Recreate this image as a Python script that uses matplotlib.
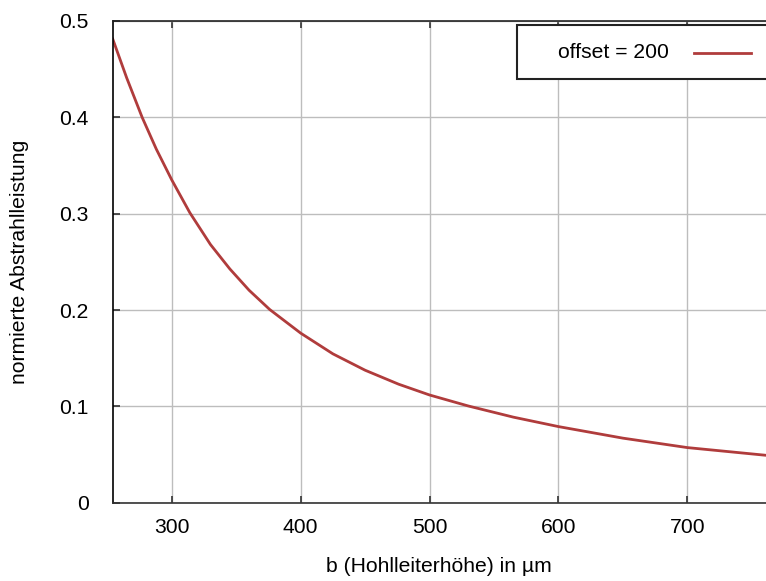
import matplotlib
matplotlib.use("Agg")
import matplotlib.pyplot as plt
from matplotlib.patches import Rectangle
from matplotlib.lines import Line2D

plt.rcParams['font.family'] = ['Liberation Sans', 'DejaVu Sans']

# Data
b_values = [254, 265, 277, 288, 300, 314, 330, 345, 360, 376, 400, 425, 450,
            476, 500, 530, 565, 600, 650, 700, 761]
power = [0.482, 0.441, 0.400, 0.367, 0.335, 0.301, 0.268, 0.2427, 0.2205,
         0.2005, 0.1760, 0.1545, 0.1375, 0.1230, 0.1118, 0.1004, 0.0888,
         0.0790, 0.0670, 0.0572, 0.0492]
series_label = "offset = 200"
x_ticks = [300, 400, 500, 600, 700]
y_ticks = [0, 0.1, 0.2, 0.3, 0.4, 0.5]
y_tick_labels = ["0", "0.1", "0.2", "0.3", "0.4", "0.5"]

W, H = 766, 581
fig = plt.figure(figsize=(W / 100, H / 100), dpi=100)
left, right, top, bottom = 112.5, 766, 21, 502.7
ax = fig.add_axes([left / W, 1 - bottom / H, (right - left) / W, (bottom - top) / H])

color = '#b03c3c'
ax.plot(b_values, power, color=color, lw=2.0, solid_capstyle='round',
        solid_joinstyle='round')

ax.set_xlim(254, 761)
ax.set_ylim(0, 0.5)
ax.set_xticks(x_ticks)
ax.set_yticks(y_ticks)
ax.set_yticklabels(y_tick_labels)
ax.grid(True, color='#bdbdbd', lw=1.0)
ax.set_axisbelow(True)

fs = 15.2
ax.tick_params(axis='both', direction='in', length=5, width=1.2, color='#333333',
               labelsize=fs, top=True, right=False)
ax.tick_params(axis='x', pad=11)
ax.tick_params(axis='y', pad=17)
for s in ['left', 'top', 'bottom']:
    ax.spines[s].set_linewidth(1.2)
ax.spines['left'].set_color('black')
ax.spines['top'].set_color('#222222')
ax.spines['bottom'].set_color('#333333')
ax.spines['right'].set_visible(False)

fig.text((left + right) / 2 / W, 1 - 566 / H, "b (Hohlleiterhöhe) in µm",
         ha='center', va='center', fontsize=fs)
fig.text(20 / W, 1 - (top + bottom) / 2 / H, "normierte Abstrahlleistung",
         ha='center', va='center', rotation=90, fontsize=fs)

# Legend box
bx0, by0, bx1, by1 = 517, 24.5, 772, 79
fig.patches.append(Rectangle((bx0 / W, 1 - by1 / H), (bx1 - bx0) / W, (by1 - by0) / H,
                             transform=fig.transFigure, facecolor='white',
                             edgecolor='#222222', lw=1.5, zorder=5))
fig.text(558 / W, 1 - 52 / H, series_label, ha='left', va='center', fontsize=fs, zorder=6)
fig.lines.append(Line2D([694 / W, 751 / W], [1 - 52.5 / H, 1 - 52.5 / H],
                        transform=fig.transFigure, color=color, lw=2.0, zorder=6))

fig.savefig("out.png", dpi=100)
